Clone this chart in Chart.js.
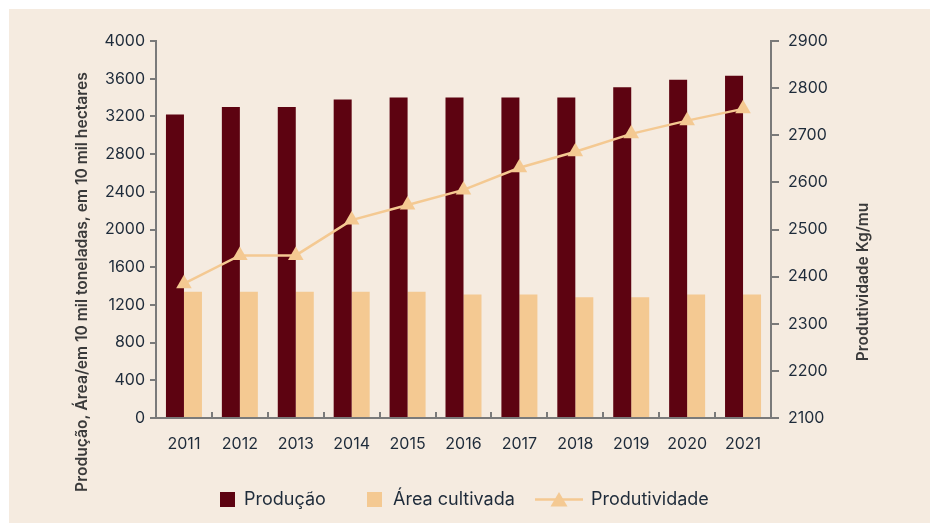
<!DOCTYPE html>
<html><head><meta charset="utf-8">
<script src="https://cdn.jsdelivr.net/npm/chart.js@4.4.1/dist/chart.umd.min.js"></script>
<style>html,body{margin:0;padding:0;background:#fff;}#wrap{width:930px;height:523px;position:relative}</style>
</head><body><div id="wrap"><canvas id="c" width="930" height="523"></canvas></div>
<script>
const years = ['2011','2012','2013','2014','2015','2016','2017','2018','2019','2020','2021'];
const producao = [3220,3300,3300,3380,3400,3400,3400,3400,3510,3590,3630];
const areaCultivada = [1340,1340,1340,1340,1340,1310,1310,1280,1280,1310,1310];
const produtividade = [2385,2445,2445,2520,2552,2584,2631,2665,2703,2731,2756];
const leftTicks = [0,400,800,1200,1600,2000,2400,2800,3200,3600,4000];
const rightTicks = [2100,2200,2300,2400,2500,2600,2700,2800,2900];
const seriesNames = ['Produção','Área cultivada','Produtividade'];
const leftTitle = 'Produção, Área/em 10 mil toneladas, em 10 mil hectares';
const rightTitle = 'Produtividade Kg/mu';

const FONT = 'Inter';
const TXT = '#1e2b3a';
const AX = '#7a7a7a';
const RED = '#5d0311';
const BEIGE = '#f4c992';
const BG = '#f5ebe0';

const decor = {
  id: 'decor',
  beforeDraw(chart) {
    const ctx = chart.ctx;
    ctx.save();
    ctx.fillStyle = '#ffffff';
    ctx.fillRect(0, 0, chart.width, chart.height);
    ctx.fillStyle = BG;
    ctx.fillRect(9, 9, chart.width - 9, chart.height - 9);
    ctx.restore();
  },
  afterDraw(chart) {
    const ctx = chart.ctx;
    ctx.save();
    // axis titles
    ctx.fillStyle = '#3a3a3a';
    ctx.font = '600 15.6px ' + FONT;
    ctx.textAlign = 'center';
    ctx.textBaseline = 'middle';
    ctx.save(); ctx.translate(82, 282); ctx.rotate(-Math.PI / 2); ctx.fillText(leftTitle, 0, 0); ctx.restore();
    ctx.save(); ctx.translate(863, 282); ctx.rotate(-Math.PI / 2); ctx.fillText(rightTitle, 0, 0); ctx.restore();
    // legend
    const ds = chart.data.datasets;
    const ly = 499.5;
    ctx.font = '18px ' + FONT;
    ctx.textAlign = 'left';
    ctx.fillStyle = ds[0].backgroundColor; ctx.fillRect(220, 492, 15, 15);
    ctx.fillStyle = TXT; ctx.fillText(ds[0].label, 244, ly);
    ctx.fillStyle = ds[1].backgroundColor; ctx.fillRect(367, 492, 15, 15);
    ctx.fillStyle = TXT; ctx.fillText(ds[1].label, 393, ly);
    ctx.strokeStyle = ds[2].borderColor; ctx.lineWidth = 2.5;
    ctx.beginPath(); ctx.moveTo(535, ly); ctx.lineTo(583, ly); ctx.stroke();
    ctx.fillStyle = ds[2].borderColor;
    ctx.beginPath(); ctx.moveTo(559, 492); ctx.lineTo(567.5, 506.5); ctx.lineTo(550.5, 506.5); ctx.closePath(); ctx.fill();
    ctx.fillStyle = TXT; ctx.fillText(ds[2].label, 591, ly);
    ctx.restore();
  }
};

const plain = v => String(v);

new Chart(document.getElementById('c'), {
  type: 'bar',
  data: {
    labels: years,
    datasets: [
      { label: seriesNames[0], data: producao, backgroundColor: RED, yAxisID: 'y', order: 0,
        categoryPercentage: 0.644, barPercentage: 1.0 },
      { label: seriesNames[1], data: areaCultivada, backgroundColor: BEIGE, yAxisID: 'y', order: 0,
        categoryPercentage: 0.644, barPercentage: 1.0 },
      { type: 'line', label: seriesNames[2], data: produtividade, yAxisID: 'y1', order: -1,
        borderColor: BEIGE, backgroundColor: BEIGE, borderWidth: 2.5, tension: 0,
        pointStyle: 'triangle', pointRadius: 9, pointHoverRadius: 9,
        pointBackgroundColor: BEIGE, pointBorderWidth: 0, fill: false }
    ]
  },
  options: {
    responsive: false,
    animation: false,
    devicePixelRatio: 1,
    layout: { padding: { top: 41, left: 0, right: 0, bottom: 0 } },
    plugins: { legend: { display: false }, tooltip: { enabled: false }, title: { display: false } },
    scales: {
      x: {
        type: 'category',
        offset: true,
        grid: { display: true, offset: true, drawOnChartArea: false, drawTicks: true, tickLength: -6, color: AX, lineWidth: 2 },
        border: { display: true, color: AX, width: 2 },
        ticks: { color: TXT, font: { family: FONT, size: 16 }, padding: 23, maxRotation: 0, autoSkip: false },
        afterFit(s) { s.height = 105; }
      },
      y: {
        position: 'left',
        min: 0, max: 4000,
        afterBuildTicks(s) { s.ticks = leftTicks.map(v => ({ value: v })); },
        grid: { drawOnChartArea: false, drawTicks: true, tickLength: 6, color: AX, lineWidth: 2 },
        border: { display: true, color: AX, width: 2 },
        ticks: { color: TXT, font: { family: FONT, size: 16 }, padding: 5, callback: plain },
        afterFit(s) { s.width = 156; }
      },
      y1: {
        position: 'right',
        min: 2100, max: 2900,
        afterBuildTicks(s) { s.ticks = rightTicks.map(v => ({ value: v })); },
        grid: { drawOnChartArea: false, drawTicks: true, tickLength: 8, color: AX, lineWidth: 2 },
        border: { display: true, color: AX, width: 2 },
        ticks: { color: TXT, font: { family: FONT, size: 16 }, padding: 9, callback: plain },
        afterFit(s) { s.width = 159; }
      }
    }
  },
  plugins: [decor]
});
</script>
</body></html>
